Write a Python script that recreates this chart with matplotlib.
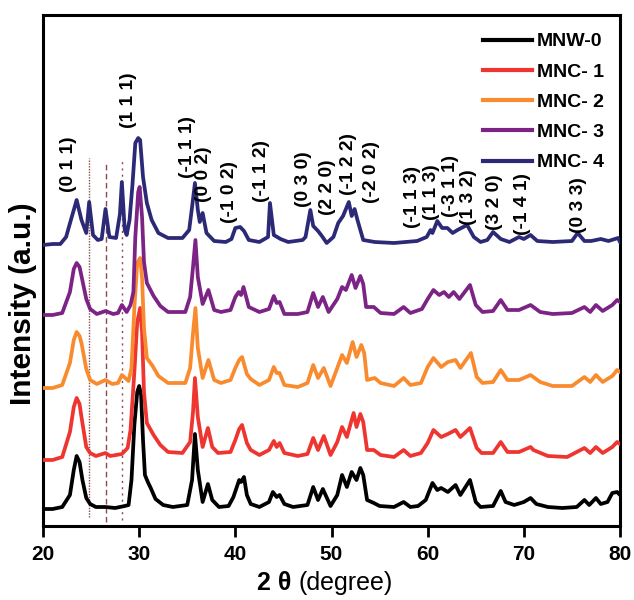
import matplotlib
matplotlib.use("Agg")
import matplotlib.pyplot as plt

plt.rcParams['font.family'] = ['Liberation Sans', 'DejaVu Sans']

# ---------------- data ----------------
series_names = ["MNW-0", "MNC- 1", "MNC- 2", "MNC- 3", "MNC- 4"]
series_colors = ["#000000", "#ee3530", "#f98b2f", "#7c2386", "#2c2a76"]
offsets = [16, 64, 138, 209, 281]

tt_mnw0 = [20, 21, 22, 22.8, 23.2, 23.5, 23.8, 24.1, 24.5, 24.9, 25.5, 26.5, 27.5, 28.5, 28.9, 29.2, 29.5, 29.8, 30.0, 30.2, 30.4, 30.6, 30.9, 31.2, 31.7, 32.5, 33.5, 35.0, 35.5, 35.8, 36.1, 36.6, 37.15, 37.6, 38.3, 39.3, 39.8, 40.4, 40.6, 40.9, 41.2, 41.6, 42.5, 43.5, 43.9, 44.3, 44.6, 45.1, 46, 47.5, 48.1, 48.6, 49.1, 49.9, 50.6, 51.1, 51.6, 52.1, 52.6, 53.0, 53.3, 53.7, 54.4, 55.0, 56.5, 57.5, 58.2, 59.0, 59.8, 60.5, 61.0, 61.4, 62.1, 62.9, 63.4, 64.4, 65.0, 65.5, 66.8, 67.6, 68.1, 69.0, 70.0, 70.7, 71.3, 72.5, 74, 75.5, 76.3, 76.8, 77.5, 78.0, 78.7, 79.2, 79.7, 80]
int_mnw0 = [1, 1, 3, 15, 40, 54, 48, 30, 12, 6, 3, 3, 2, 4, 5, 30, 85, 118, 124, 115, 70, 35, 28, 22, 11, 5, 3, 5, 30, 76, 40, 8, 26, 10, 3, 4, 13, 30, 28, 33, 15, 6, 3, 8, 18, 13, 15, 6, 3, 5, 23, 10, 21, 4, 15, 35, 23, 38, 30, 42, 35, 10, 7, 4, 3, 8, 3, 4, 10, 27, 20, 22, 18, 25, 15, 30, 8, 3, 4, 19, 8, 5, 8, 12, 6, 3, 2, 3, 10, 5, 12, 6, 8, 17, 18, 15]

tt_mnc1 = [20, 21, 22, 22.8, 23.2, 23.5, 23.8, 24.0, 24.5, 24.9, 25.5, 26.5, 27.0, 28.2, 28.8, 29.1, 29.5, 29.8, 30.1, 30.3, 30.5, 30.8, 31.5, 32.2, 33.0, 34.5, 35.3, 35.6, 35.8, 36.1, 36.6, 37.15, 37.6, 38.2, 39.5, 40.0, 40.4, 40.7, 41.2, 41.6, 42.5, 43.5, 44.0, 44.3, 44.6, 45.1, 46.5, 47.5, 48.1, 48.6, 49.2, 49.9, 50.6, 51.1, 51.6, 52.3, 52.6, 53.0, 53.3, 53.7, 54.4, 55.1, 56.5, 57.5, 58.2, 59.3, 60.0, 60.6, 61.4, 62.1, 62.9, 63.4, 64.4, 65.1, 65.6, 66.8, 67.6, 68.3, 69.5, 70.7, 71.0, 72.5, 74.5, 76.3, 76.9, 77.5, 78.2, 79.2, 79.7, 80]
int_mnc1 = [2, 2, 5, 30, 55, 64, 58, 45, 15, 9, 6, 9, 6, 8, 14, 32, 90, 140, 154, 130, 70, 39, 27, 17, 10, 9, 20, 50, 84, 45, 15, 34, 15, 9, 10, 22, 33, 37, 19, 12, 7, 12, 21, 15, 19, 9, 6, 8, 24, 12, 26, 7, 20, 35, 25, 49, 35, 48, 40, 12, 12, 7, 5, 12, 6, 9, 19, 32, 25, 28, 32, 25, 34, 14, 9, 9, 20, 10, 10, 15, 12, 6, 5, 14, 9, 15, 9, 15, 20, 18]

tt_mnc2 = [20, 21, 22, 22.8, 23.2, 23.5, 23.8, 24.0, 24.5, 24.9, 25.6, 26.5, 27.2, 27.8, 28.2, 28.9, 29.2, 29.5, 29.8, 30.1, 30.3, 30.5, 30.8, 31.4, 32.0, 33.0, 34.8, 35.3, 35.6, 35.85, 36.1, 36.6, 37.2, 37.8, 38.5, 39.5, 40.0, 40.4, 40.7, 41.2, 41.6, 42.5, 43.5, 44.0, 44.3, 44.6, 45.1, 46.5, 47.5, 48.1, 48.6, 49.2, 49.9, 50.6, 51.1, 51.6, 52.2, 52.6, 53.1, 53.4, 53.7, 54.5, 55.1, 56.5, 57.5, 58.2, 59.3, 60.0, 60.6, 61.4, 62.1, 62.9, 63.4, 64.5, 65.1, 65.7, 66.8, 67.6, 68.3, 69.5, 70.7, 71.7, 73, 75, 76.3, 76.9, 77.5, 78.2, 79.2, 79.7, 80]
int_mnc2 = [0, 0, 3, 25, 48, 56, 52, 45, 19, 8, 4, 8, 4, 5, 13, 7, 20, 80, 125, 130, 110, 60, 30, 22, 12, 5, 5, 20, 55, 80, 40, 10, 28, 8, 5, 8, 20, 28, 31, 14, 9, 3, 8, 21, 15, 15, 3, 1, 5, 23, 10, 20, 2, 20, 33, 25, 46, 31, 43, 35, 8, 10, 5, 2, 10, 3, 5, 21, 30, 21, 26, 28, 20, 35, 11, 5, 6, 18, 8, 8, 13, 6, 2, 2, 11, 6, 13, 6, 12, 18, 16]

tt_mnc3 = [20, 21, 22, 22.8, 23.2, 23.5, 23.8, 24.0, 24.5, 24.9, 25.6, 26.5, 27.3, 27.8, 28.2, 28.7, 29.1, 29.4, 29.6, 29.9, 30.05, 30.3, 30.5, 30.8, 31.5, 32.2, 33.0, 34.8, 35.3, 35.6, 35.85, 36.1, 36.6, 37.2, 37.8, 38.5, 39.5, 40.0, 40.35, 40.6, 40.85, 41.4, 42.5, 43.5, 44.0, 44.3, 44.6, 45.1, 46.5, 47.5, 48.1, 48.6, 49.1, 49.7, 50.6, 51.1, 51.5, 52.1, 52.5, 53.0, 53.3, 53.6, 54.4, 55.1, 56.5, 57.5, 58.2, 59.4, 60.0, 60.6, 61.2, 61.7, 62.2, 62.7, 63.3, 64.4, 65.0, 65.7, 66.8, 67.6, 68.3, 69.5, 70.7, 71.7, 73, 75, 76.3, 76.9, 77.5, 78.2, 79.2, 79.7, 80]
int_mnc3 = [2, 2, 4, 25, 48, 54, 50, 41, 18, 8, 3, 6, 3, 4, 12, 5, 12, 25, 80, 125, 130, 100, 55, 34, 21, 11, 5, 5, 20, 50, 77, 40, 13, 27, 7, 5, 7, 20, 25, 22, 30, 10, 5, 8, 21, 14, 15, 3, 3, 5, 24, 10, 20, 5, 18, 30, 27, 42, 29, 41, 33, 10, 10, 4, 3, 10, 4, 8, 18, 27, 22, 25, 20, 25, 18, 32, 12, 5, 6, 17, 7, 7, 12, 5, 3, 4, 10, 5, 12, 6, 12, 17, 15]

tt_mnc4 = [20, 21, 21.8, 22.4, 22.9, 23.5, 24.0, 24.5, 24.8, 25.2, 25.7, 26.1, 26.5, 26.9, 27.6, 28.0, 28.2, 28.5, 28.7, 29.0, 29.3, 29.6, 29.9, 30.1, 30.4, 30.8, 31.3, 32.0, 33.0, 34.5, 35.2, 35.5, 35.8, 36.1, 36.3, 36.6, 37.0, 37.8, 39.0, 39.6, 40.0, 40.5, 40.9, 41.4, 42.5, 43.4, 43.6, 44.0, 44.7, 45.5, 47.0, 47.3, 47.8, 48.1, 48.6, 49.0, 49.5, 50.2, 50.7, 51.2, 51.8, 52.1, 52.4, 52.7, 53.3, 54.5, 56.5, 58.9, 59.9, 60.3, 60.5, 61.0, 61.5, 62.05, 62.6, 63.1, 64.1, 64.8, 65.5, 66.2, 66.8, 67.6, 68.5, 69.5, 70.0, 70.7, 71.4, 73, 75.0, 75.6, 76.3, 77, 78.0, 78.8, 79.8, 80]
int_mnc4 = [0, 1, 1, 8, 25, 45, 25, 12, 43, 10, 5, 6, 36, 8, 7, 31, 63, 15, 10, 25, 60, 102, 107, 105, 68, 42, 25, 12, 7, 7, 15, 38, 62, 35, 23, 32, 12, 4, 3, 6, 17, 18, 14, 5, 3, 8, 42, 10, 6, 3, 5, 8, 35, 19, 14, 9, 2, 8, 22, 29, 43, 29, 36, 25, 5, 3, 2, 4, 8, 15, 12, 24, 17, 17, 12, 15, 20, 8, 3, 5, 13, 6, 3, 8, 6, 10, 4, 3, 4, 12, 4, 4, 6, 4, 7, 3]

peak_labels = ["(0 1 1)", "(1 1 1)", "(-1 1 1)", "(0 0 2)", "(-1 0 2)", "(-1 1 2)",
               "(0 3 0)", "(2 2 0)", "(-1 2 2)", "(-2 0 2)", "(-1 1 3)", "(1 1 3)",
               "(-3 1 1)", "(1 3 2)", "(3 2 0)", "(-1 4 1)", "(0 3 3)"]
peak_label_tt = [22.6, 28.85, 35.0, 36.65, 39.4, 42.7, 47.1, 49.6, 51.8, 54.2,
                 58.4, 60.4, 62.4, 64.2, 66.9, 69.9, 75.7]
peak_label_y = [334, 398, 348, 324, 303, 324, 319, 311, 331, 323,
                298, 306, 309, 301, 296, 291, 293]

ref_lines_tt = [24.8, 26.5, 28.2]
ref_lines_y = [(9, 368), (4, 364), (6, 366)]

x_ticks = [20, 30, 40, 50, 60, 70, 80]

# ---------------- plot ----------------
fig = plt.figure(figsize=(6.34, 6.0), dpi=100)
ax = fig.add_axes([43/634, 74/600, 577/634, 511/600])

all_tt = [tt_mnw0, tt_mnc1, tt_mnc2, tt_mnc3, tt_mnc4]
all_int = [int_mnw0, int_mnc1, int_mnc2, int_mnc3, int_mnc4]
for name, col, off, tt, it in zip(series_names, series_colors, offsets, all_tt, all_int):
    ax.plot(tt, [v + off for v in it], color=col, lw=2.7, label=name,
            solid_joinstyle='round', zorder=3)

styles = [(0, (1, 1)), (0, (4, 2.5)), (0, (1.5, 3))]
for t, (y0, y1), ls in zip(ref_lines_tt, ref_lines_y, styles):
    ax.plot([t, t], [y0, y1], color="#8c4a4a", lw=1.0, linestyle=ls, zorder=2)

for lab, t, y in zip(peak_labels, peak_label_tt, peak_label_y):
    ax.text(t, y, lab, rotation=90, ha='center', va='bottom',
            fontsize=13.8, fontweight='bold', color='black')

ax.set_xlim(20, 80)
ax.set_ylim(0, 511)
ax.set_xticks(x_ticks)
ax.set_xticklabels([str(v) for v in x_ticks])
ax.set_yticks([])
ax.tick_params(axis='x', direction='out', length=8, width=2, pad=6,
               labelsize=15)
for lbl in ax.get_xticklabels():
    lbl.set_fontweight('bold')
for sp in ax.spines.values():
    sp.set_linewidth(2.2)

ax.set_ylabel("Intensity (a.u.)", fontsize=21.5, fontweight='bold')
ax.yaxis.set_label_coords(-0.011, 0.436)

ax.text(0.443, -0.112, "2 θ ", transform=ax.transAxes, ha='right', va='center',
        fontsize=18, fontweight='bold')
ax.text(0.443, -0.112, "(degree)", transform=ax.transAxes, ha='left', va='center',
        fontsize=18)

leg = ax.legend(loc='upper right', bbox_to_anchor=(0.972, 0.965), frameon=False,
                prop={'weight': 'bold', 'size': 14}, handlelength=2.5,
                handletextpad=0.25, labelspacing=0.65, borderaxespad=0,
                borderpad=0)
for h in leg.get_lines():
    h.set_linewidth(3)

fig.savefig("out.png", dpi=100)
